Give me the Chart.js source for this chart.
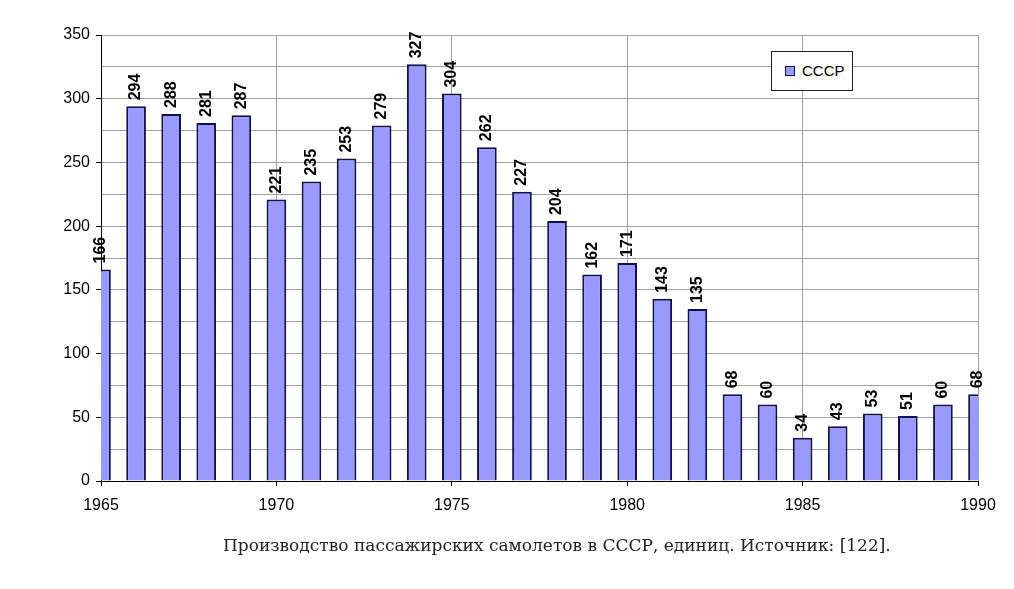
<!DOCTYPE html>
<html lang="ru">
<head>
  <meta charset="UTF-8">
  <title>Производство пассажирских самолетов в СССР</title>
  <script src="https://cdn.jsdelivr.net/npm/chart.js"></script>
  <style>
    body { margin: 0; background: #fff; }
    .wrap { position: relative; width: 1014px; height: 589px; }
    .legend {
      position: absolute; left: 771px; top: 51px; width: 82px; height: 40px;
      box-sizing: border-box; border: 1px solid #222; background: #fff;
      font: 15px "Liberation Sans", Arial, sans-serif; color: #000;
    }
    .legend .sw {
      position: absolute; left: 13px; top: 14px; width: 10px; height: 10px;
      box-sizing: border-box; background: #9999ff; border: 1px solid #10104a;
    }
    .legend .txt { position: absolute; left: 30px; top: 10px; }
    .caption {
      position: absolute; left: 223px; top: 535px; white-space: nowrap;
      font: 17px "DejaVu Serif", "Liberation Serif", serif; color: #222;
    }
  </style>
</head>
<body>
  <div class="wrap">
    <canvas id="chart"></canvas>
    <div class="legend"><span class="sw"></span><span class="txt" id="legendText"></span></div>
    <div class="caption">Производство пассажирских самолетов в СССР, единиц. Источник: [122].</div>
  </div>

<script>
  const years = [1965, 1966, 1967, 1968, 1969, 1970, 1971, 1972, 1973, 1974, 1975, 1976, 1977,
    1978, 1979, 1980, 1981, 1982, 1983, 1984, 1985, 1986, 1987, 1988, 1989, 1990]
  const values = [166, 294, 288, 281, 287, 221, 235, 253, 279, 327, 304, 262, 227,
    204, 162, 171, 143, 135, 68, 60, 34, 43, 53, 51, 60, 68]
  const seriesName = 'СССР'

  legendText.textContent = seriesName

  // vertical value labels above the bars
  const barLabels = {
    id: 'barLabels',
    afterDatasetsDraw(chart) {
      const ctx = chart.ctx
      const meta = chart.getDatasetMeta(0)
      ctx.save()
      ctx.font = 'bold 16px "Liberation Sans", Arial, sans-serif'
      ctx.fillStyle = '#000'
      ctx.textAlign = 'left'
      ctx.textBaseline = 'middle'
      meta.data.forEach(function (bar, i) {
        ctx.save()
        ctx.translate(bar.x, bar.y - 6)
        ctx.rotate(-Math.PI / 2)
        ctx.fillText(values[i], 0, 0)
        ctx.restore()
      })
      ctx.restore()
    }
  }

  const tickFont = { size: 16, family: '"Liberation Sans", Arial, sans-serif' }

  new Chart(document.getElementById('chart'), {
    type: 'bar',
    data: {
      datasets: [{
        label: seriesName,
        data: years.map(function (y, i) { return { x: y, y: values[i] } }),
        backgroundColor: '#9999ff',
        borderColor: '#10104a',
        borderWidth: 2,
        borderSkipped: 'bottom',
        categoryPercentage: 1,
        barPercentage: 0.56,
        clip: 0
      }]
    },
    options: {
      responsive: true,
      maintainAspectRatio: false,
      animation: false,
      layout: { padding: { left: 0, top: 35, right: 36, bottom: 78 } },
      plugins: {
        legend: { display: false },
        tooltip: { enabled: false }
      },
      scales: {
        x: {
          type: 'linear',
          min: 1965,
          max: 1990,
          offset: false,
          afterFit: function (scale) { scale.height = 30 },
          grid: {
            offset: false,
            color: function (c) { return c.tick && c.tick.value === 1965 ? 'transparent' : '#a0a0a0' },
            tickColor: '#000',
            tickLength: 5
          },
          border: { color: '#000', width: 1 },
          ticks: {
            stepSize: 5,
            padding: 10,
            color: '#000',
            font: tickFont,
            maxRotation: 0,
            callback: function (v) { return String(v) }
          }
        },
        y: {
          min: 0,
          max: 350,
          afterFit: function (scale) { scale.width = 101 },
          grid: {
            color: function (c) { return c.tick && c.tick.value === 0 ? 'transparent' : '#a0a0a0' },
            tickColor: function (c) { return c.tick && c.tick.value % 50 === 0 ? '#000' : 'transparent' },
            tickLength: 5
          },
          border: { color: '#000', width: 1 },
          ticks: {
            stepSize: 25,
            padding: 6,
            color: '#000',
            font: tickFont,
            autoSkip: false,
            callback: function (v) { return v % 50 === 0 ? v : '' }
          }
        }
      }
    },
    plugins: [barLabels]
  })
</script>
</body>
</html>
